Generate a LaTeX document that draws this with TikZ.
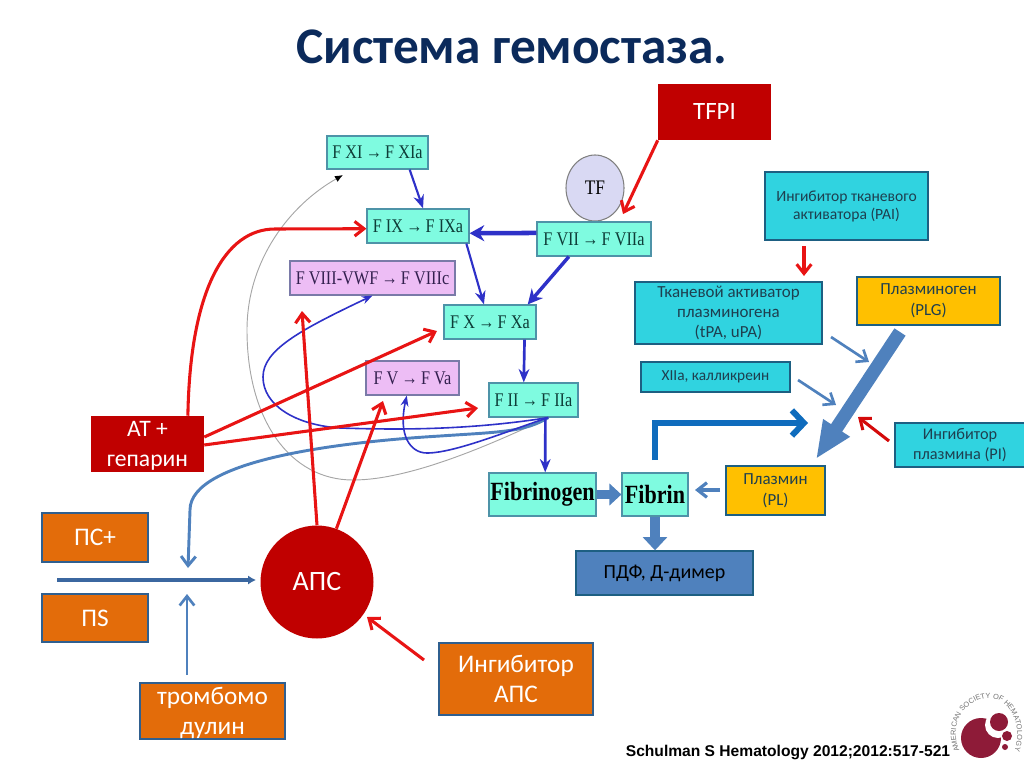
\documentclass[tikz,border=0pt]{standalone}
\usepackage{fontspec}
\setmainfont{Carlito}
\newfontfamily\factorfont[FakeStretch=0.84]{Liberation Serif}
\newfontfamily\reffont{Liberation Sans}
\usetikzlibrary{arrows.meta,decorations.text,shapes.geometric}
\definecolor{factorfill}{HTML}{7FFBE0}
\definecolor{factorline}{HTML}{4E93A8}
\definecolor{factortext}{HTML}{0E3D38}
\definecolor{pinkfill}{HTML}{EDBDF5}
\definecolor{pinkline}{HTML}{7A7AA8}
\definecolor{pinktext}{HTML}{33204F}
\definecolor{cyanfill}{HTML}{30D3E0}
\definecolor{cyanline}{HTML}{1D5F82}
\definecolor{cyantext}{HTML}{1E3F4F}
\definecolor{goldfill}{HTML}{FFC000}
\definecolor{darkred}{HTML}{C00000}
\definecolor{brightred}{HTML}{E81414}
\definecolor{orangefill}{HTML}{E36C0A}
\definecolor{orangeline}{HTML}{2F5F8F}
\definecolor{steel}{HTML}{4F81BD}
\definecolor{navy}{HTML}{0B2A5B}
\definecolor{cascade}{HTML}{2E31C8}
\definecolor{ashred}{HTML}{8E1B38}
\definecolor{tffill}{HTML}{D9D9F3}
\definecolor{fibrinblue}{HTML}{0F6CBD}
\begin{document}
\begin{tikzpicture}[x=0.75pt,y=-0.75pt]
	\tikzstyle{every node}+=[inner sep=0pt,align=center]
	\tikzstyle{size}=[minimum width=#1*0.75pt]
	\tikzstyle{high}=[minimum height=#1*0.75pt]
	\tikzstyle{factor}=[draw=factorline,line width=0.9pt,fill=factorfill,text=factortext,font=\factorfont\fontsize{14.5}{18}\selectfont]
	\tikzstyle{cofactor}=[factor,draw=pinkline,fill=pinkfill,text=pinktext]
	\tikzstyle{protein}=[factor,font=\factorfont\bfseries\fontsize{19.7}{26}\selectfont,text=black]
	\tikzstyle{cyanbox}=[draw=cyanline,line width=1.5pt,fill=cyanfill,text=cyantext,font=\fontsize{11.7}{13.5}\selectfont]
	\tikzstyle{goldbox}=[cyanbox,fill=goldfill,font=\fontsize{12.7}{15.5}\selectfont]
	\tikzstyle{redbox}=[fill=darkred,text=white,font=\fontsize{17.7}{22.5}\selectfont]
	\tikzstyle{orangebox}=[draw=orangeline,line width=1.2pt,fill=orangefill,text=white,font=\fontsize{19}{22.5}\selectfont]
	\tikzstyle{blue1}=[draw=cascade,line width=1.6pt,-{Stealth[length=10pt,width=8pt]}]
	\tikzstyle{blue2}=[blue1,line width=2.6pt,-{Stealth[length=11pt,width=11pt]}]
	\tikzstyle{blue3}=[blue1,line width=3.4pt,-{Stealth[length=11pt,width=12pt]}]
	\tikzstyle{bluethin}=[draw=cascade,line width=1.2pt,-{Stealth[length=8pt,width=6pt]}]
	\tikzstyle{redarrow}=[draw=brightred,line width=2.3pt,-{Straight Barb[length=7pt,width=11pt]}]
	\tikzstyle{steelarrow}=[draw=steel,line width=2pt,-{Straight Barb[length=7pt,width=11pt]}]
	\useasboundingbox (0,0) rectangle (1024,767);

	\node (title) at (512,47) {\fontsize{38.5}{42}\selectfont\bfseries\color{navy}Система гемостаза.};

	\node[fill=darkred,text=white,size=113,high=56,font=\fontsize{18.7}{22}\selectfont] (tfpi) at (714.5,112) {TFPI};
	\node[draw=gray,line width=0.8pt,fill=tffill,ellipse,minimum width=58*0.75pt,minimum height=66*0.75pt,font=\factorfont\fontsize{15.5}{18}\selectfont] (tf) at (595,188) {TF};

	\node[factor,size=101,high=33] (fxi) at (377.5,152.5) {F XI\,→\,F XIa};
	\node[factor,size=102,high=34] (fix) at (418,226) {F IX\,→\,F IXa};
	\node[factor,size=114,high=34] (fvii) at (594,239) {F VII\,→\,F VIIa};
	\node[cofactor,size=165,high=34] (fviii) at (372.5,278) {F VIII-VWF\,→\,F VIIIc};
	\node[factor,size=92,high=34] (fx) at (490,322) {F X\,→\,F Xa};
	\node[cofactor,size=93,high=34] (fv) at (412.5,378) {F V\,→\,F Va};
	\node[factor,size=89,high=34] (fii) at (533.5,400) {F II\,→\,F IIa};
	\node[protein,size=107,high=43] (fbg) at (542.5,494.5) {Fibrinogen};
	\node[protein,size=66,high=43] (fbn) at (655,494.5) {Fibrin};

	\node[cyanbox,size=163,high=68] (pai) at (846.5,206) {Ингибитор тканевого\\активатора (PAI)};
	\node[cyanbox,size=187,high=62,font=\fontsize{12.7}{15}\selectfont] (tpa) at (728.5,313) {Тканевой активатор\\плазминогена\\(tPA, uPA)};
	\node[cyanbox,size=149,high=30,font=\fontsize{11.5}{14}\selectfont] (xiia) at (715.5,377) {XIIa, калликреин};
	\node[goldbox,size=143,high=48] (plg) at (928.5,301) {Плазминоген\\(PLG)};
	\node[cyanbox,size=130,high=44,font=\fontsize{12.2}{14.5}\selectfont] (pi) at (960,445) {Ингибитор\\плазмина (PI)};
	\node[goldbox,size=99,high=49] (pl) at (775.5,490.5) {Плазмин\\(PL)};
	\node[draw=cyanline,line width=1pt,fill=steel,size=177,high=44,font=\fontsize{15}{18}\selectfont] (pdf) at (664.5,573) {ПДФ, Д-димер};

	\node[redbox,size=113,high=56] (atg) at (147.5,444) {АТ +\\\smash{гепарин}};
	\node[orangebox,size=106,high=49] (psp) at (95,537.5) {ПС+};
	\node[orangebox,size=106,high=48] (ps) at (95,618) {ПS};
	\node[orangebox,size=145,high=56] (tmb) at (212.5,711) {тромбомо\\\smash{дулин}};
	\node[orangebox,size=154,high=72] (iaps) at (516,679) {Ингибитор\\АПС};
	\node[circle,fill=darkred,text=white,minimum size=113*0.75pt,font=\fontsize{21}{24}\selectfont] (aps) at (317,582) {АПС};

	\node[font=\reffont\bfseries\fontsize{11.7}{13}\selectfont] (ref) at (788,752) {Schulman S Hematology 2012;2012:517-521};

	\coordinate (tfpitip) at (623,214);
	\coordinate (xitip) at (343,175);
	\coordinate (viiitip) at (302,311);
	\coordinate (vtip) at (383,401);
	\coordinate (xtip) at (437,331);
	\coordinate (iitip) at (478,408);
	\coordinate (apsfrom) at (57,580);
	\coordinate (apsto) at (256,580);
	\coordinate (tmbfrom) at (187,675);
	\coordinate (tmbto) at (187,594);
	\coordinate (curveto) at (188,568);
	\coordinate (iapsfrom) at (424,660);
	\coordinate (iapsto) at (367,617);
	\coordinate (paifrom) at (804,246);
	\coordinate (paito) at (804,276);
	\coordinate (tpafrom) at (831,337);
	\coordinate (tpato) at (869,362);
	\coordinate (xiiafrom) at (798,380);
	\coordinate (xiiato) at (836,405);
	\coordinate (plfrom) at (720,490);
	\coordinate (plto) at (695,490);
	\coordinate (pifrom) at (889,441);
	\coordinate (pito) at (858,417);
	\coordinate (plgfrom) at (900,332);
	\coordinate (plgto) at (816,459);
	\coordinate (fbnfrom) at (655,460);
	\coordinate (fbnto) at (808,423);

	\draw[black!35,line width=0.7pt,-{Latex[black,length=6pt,width=5pt]}] (fii.-50) .. controls (490,445) and (410,480) .. (353,480) .. controls (290,480) and (247,420) .. (247,330) .. controls (247,260) and (290,205) .. (xitip);
	\draw[steel,line width=2.2pt,-{Straight Barb[length=7pt,width=11pt]}] (fii.-50) .. controls (525,432) and (500,432) .. (440,436) .. controls (340,442) and (190,460) .. (190,510) -- (curveto);

	\draw[blue1] (fxi.-28) -- (fix.74);
	\draw[blue3] (fvii.174) -- (fix.-8);
	\draw[blue2] (fvii.-145) -- (fx.25);
	\draw[blue1] (fix.-20) -- (fx.109);
	\draw[blue1,line width=2pt] (fx.-27) -- (fii.119);
	\draw[blue1,line width=2pt] (fii.-56) -- (fbg.83);
	\draw[bluethin] (fii.-50) .. controls (470,430) and (400,430) .. (340,428) .. controls (295,425) and (263,405) .. (263,377) .. controls (263,350) and (300,330) .. (fviii.south);
	\draw[bluethin] (fii.-50) .. controls (510,430) and (455,453) .. (427,453) .. controls (410,453) and (398,435) .. (fv.-108);

	\draw[redarrow] (tfpi.south west) -- (tfpitip);
	\draw[redarrow] (atg.35) .. controls (190,290) and (225,229) .. (275,229) -- (fix.-177);
	\draw[redarrow] (atg.7) -- (xtip);
	\draw[redarrow] (atg.-1) -- (iitip);
	\draw[redarrow] (aps.90) -- (viiitip);
	\draw[redarrow] (aps.70) -- (vtip);
	\draw[redarrow] (iapsfrom) -- (iapsto);
	\draw[redarrow] (paifrom) -- (paito);
	\draw[redarrow,draw=darkred!50!brightred] (pifrom) -- (pito);

	\draw[steelarrow,draw=steel!70!navy,line width=2.6pt,-{Latex[length=6pt,width=7pt]}] (apsfrom) -- (apsto);
	\draw[steelarrow] (tmbfrom) -- (tmbto);
	\draw[steelarrow] (tpafrom) -- (tpato);
	\draw[steelarrow] (xiiafrom) -- (xiiato);
	\draw[steelarrow,line width=2.4pt] (plfrom) -- (plto);

	\draw[draw=steel,line width=10pt,-{Triangle[length=28pt,width=22pt]}] (plgfrom) -- (plgto);
	\draw[draw=steel,line width=7pt,-{Triangle[length=9pt,width=16pt]}] (fbg.east) -- (fbn.west);
	\draw[draw=steel,line width=7pt,-{Triangle[length=10pt,width=18pt]}] (fbn.south) -- (pdf.north -| fbn.south);
	\draw[draw=fibrinblue,line width=4.5pt,-{Straight Barb[length=9pt,width=19pt]}] (fbnfrom) |- (fbnto);

	\fill[ashred] (981,738) circle (20);
	\fill[white] (998,725) circle (13);
	\fill[ashred] (999,722) circle (9);
	\fill[ashred] (1007,736) circle (5);
	\fill[ashred] (1005,747) circle (3);
	\path[decorate,decoration={text along path,text align=center,text color=black!55,text={|\reffont\fontsize{5.5}{6}\selectfont|AMERICAN SOCIETY OF HEMATOLOGY}}] (960,752) .. controls (945,715) and (975,697) .. (990,698) .. controls (1005,698) and (1025,720) .. (1014,752);
\end{tikzpicture}
\end{document}
